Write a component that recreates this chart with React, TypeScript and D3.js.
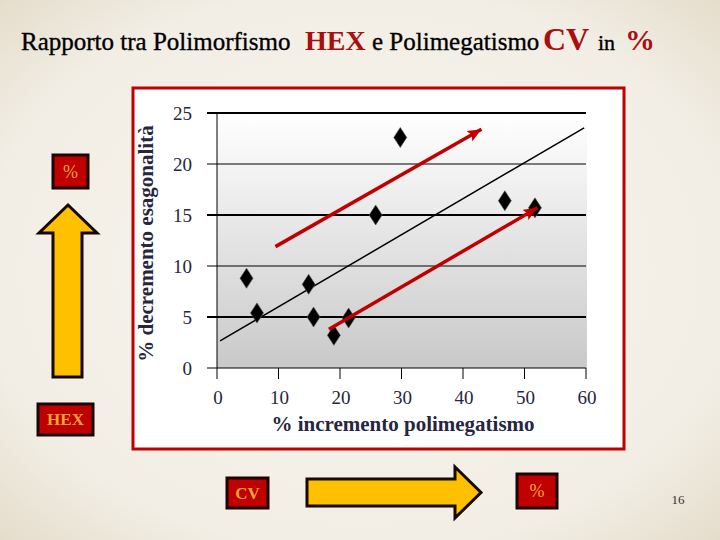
import * as d3 from 'd3';

// % incremento polimegatismo (CV) vs % decremento esagonalità (HEX)
const cvIncrease = [4.8, 6.5, 14.9, 15.7, 19.0, 21.4, 25.8, 29.8, 46.8, 51.7];
const hexDecrease = [8.8, 5.4, 8.2, 5.0, 3.2, 4.9, 15.0, 22.6, 16.4, 15.7];

const xTicks = [0, 10, 20, 30, 40, 50, 60];
const yTicks = [0, 5, 10, 15, 20, 25];

// trend line as drawn in the original (end points)
const trendX = [0.5, 59.7];
const trendY = [2.65, 23.55];

// red annotation arrows [x, y] start -> end
const upperArrow: [number, number][] = [
  [9.5, 11.9],
  [43.0, 23.4],
];
const lowerArrow: [number, number][] = [
  [18.2, 3.8],
  [52.1, 15.7],
];

const serif = '"Liberation Serif", "Times New Roman", serif';
const red = '#c00000';
const titleRed = '#a80f0f';
const boxText = '#f3a72e';
const arrowFill = '#ffc000';
const labelColor = '#26263e';

function Box({ x, y, w, h, label, bold }: { x: number; y: number; w: number; h: number; label: string; bold?: boolean }) {
  return (
    <g>
      <rect x={x} y={y} width={w} height={h} fill={red} stroke="#1a0505" strokeWidth={3} />
      <text
        x={x + w / 2}
        y={y + h / 2}
        dy="0.35em"
        textAnchor="middle"
        fontFamily={serif}
        fontSize={bold ? 17 : 18}
        fontWeight={bold ? 'bold' : 'normal'}
        fill={boxText}
      >
        {label}
      </text>
    </g>
  );
}

export default function App() {
  const width = 720;
  const height = 540;

  const x = d3.scaleLinear().domain([0, 60]).range([217, 586]);
  const y = d3.scaleLinear().domain([0, 25]).range([368, 113]);

  const trendLine = d3
    .line<number>()
    .x((d) => x(d))
    .y((_, i) => y(trendY[i]));

  const arrowLine = d3
    .line<[number, number]>()
    .x((d) => x(d[0]))
    .y((d) => y(d[1]));

  // tall narrow diamond marker
  const diamond = (cx: number, cy: number) => {
    const p = d3.path();
    p.moveTo(cx, cy - 10);
    p.lineTo(cx + 6.5, cy);
    p.lineTo(cx, cy + 10);
    p.lineTo(cx - 6.5, cy);
    p.closePath();
    return p.toString();
  };

  return (
    <svg
      width={width}
      height={height}
      style={{ position: 'absolute', left: 0, top: 0, display: 'block' }}
    >
      <defs>
        <radialGradient id="bg" cx="50%" cy="50%" r="75%">
          <stop offset="0%" stopColor="#f7f5f0" />
          <stop offset="70%" stopColor="#f2eee5" />
          <stop offset="100%" stopColor="#e2d9c6" />
        </radialGradient>
        <linearGradient id="plotBg" x1="0" y1="0" x2="0" y2="1">
          <stop offset="0%" stopColor="#ffffff" />
          <stop offset="100%" stopColor="#c9c9c9" />
        </linearGradient>
        <marker
          id="redHead"
          markerUnits="userSpaceOnUse"
          markerWidth={16}
          markerHeight={12}
          refX={14}
          refY={6}
          orient="auto"
        >
          <path d="M0,0 L14,6 L0,12 L3,6 Z" fill={red} />
        </marker>
      </defs>

      <rect width={width} height={height} fill="url(#bg)" />

      {/* title */}
      <g fontFamily={serif} fill="#000" stroke="#000" strokeWidth={0.35}>
        <text x={21} y={50} fontSize={25}>Rapporto tra Polimorfismo</text>
        <text x={305} y={50} fontSize={28} fontWeight="bold" fill={titleRed} stroke="none">HEX</text>
        <text x={372} y={50} fontSize={25}>e Polimegatismo</text>
        <text x={543} y={50} fontSize={32} fontWeight="bold" fill={titleRed} stroke="none">CV</text>
        <text x={598} y={50} fontSize={22}>in</text>
        <text x={625} y={50} fontSize={30} fontWeight="bold" fill={titleRed} stroke="none">%</text>
      </g>

      {/* chart frame */}
      <rect x={133} y={88} width={491} height={361} fill="#ffffff" stroke={red} strokeWidth={3} />

      {/* plot area */}
      <rect x={x(0)} y={y(25)} width={x(60) - x(0) + 1} height={y(0) - y(25)} fill="url(#plotBg)" />

      {/* horizontal grid lines */}
      {yTicks.map((t) => (
        <line
          key={`gy${t}`}
          x1={x(0) - 10}
          x2={x(60)}
          y1={y(t)}
          y2={y(t)}
          stroke="#000"
          strokeWidth={t % 10 === 5 ? 2.2 : 1}
        />
      ))}

      {/* axes */}
      <line x1={x(0)} x2={x(0)} y1={y(25)} y2={y(0)} stroke="#000" strokeWidth={1} />
      {xTicks.map((t) => (
        <line key={`tx${t}`} x1={x(t)} x2={x(t)} y1={y(0)} y2={y(0) + 11} stroke="#000" strokeWidth={1} />
      ))}

      {/* tick labels */}
      <g fontFamily={serif} fontSize={19} fill={labelColor}>
        {yTicks.map((t) => (
          <text key={`ly${t}`} x={x(0) - 25} y={y(t)} dy="0.35em" textAnchor="end">
            {t}
          </text>
        ))}
        {xTicks.map((t) => (
          <text key={`lx${t}`} x={x(t) + 1} y={404} textAnchor="middle">
            {t}
          </text>
        ))}
      </g>

      {/* axis titles */}
      <text
        transform={`translate(153, ${(y(0) + y(25)) / 2 + 3}) rotate(-90)`}
        textAnchor="middle"
        fontFamily={serif}
        fontWeight="bold"
        fontSize={21}
        fill={labelColor}
      >
        % decremento esagonalità
      </text>
      <text
        x={403}
        y={431}
        textAnchor="middle"
        fontFamily={serif}
        fontWeight="bold"
        fontSize={21}
        fill={labelColor}
      >
        % incremento polimegatismo
      </text>

      {/* trend line */}
      <path d={trendLine(trendX) ?? ''} fill="none" stroke="#000" strokeWidth={1.5} />

      {/* data points */}
      {cvIncrease.map((cv, i) => (
        <path key={`pt${i}`} d={diamond(x(cv), y(hexDecrease[i]))} fill="#000" stroke="#555" strokeWidth={0.6} />
      ))}

      {/* red annotation arrows */}
      {[upperArrow, lowerArrow].map((a, i) => (
        <path
          key={`ar${i}`}
          d={arrowLine(a) ?? ''}
          fill="none"
          stroke={red}
          strokeWidth={3.5}
          markerEnd="url(#redHead)"
        />
      ))}

      {/* left decoration: % ↑ HEX */}
      <Box x={53} y={155} w={35} h={33} label="%" />
      <path
        d="M68,205 L97,233 L82,233 L82,377 L53,377 L53,233 L39,233 Z"
        fill={arrowFill}
        stroke="#140800"
        strokeWidth={3}
        strokeLinejoin="miter"
      />
      <Box x={38} y={404} w={55} h={31} label="HEX" bold />

      {/* bottom decoration: CV → % */}
      <Box x={227} y={478} w={41} h={30} label="CV" bold />
      <path
        d="M307,479 L455,479 L455,467 L481,492.5 L455,518 L455,506 L307,506 Z"
        fill={arrowFill}
        stroke="#140800"
        strokeWidth={3}
      />
      <Box x={517} y={474} w={40} h={34} label="%" />

      {/* slide number */}
      <text x={678} y={504} textAnchor="middle" fontFamily={serif} fontSize={13} fill="#333">
        16
      </text>
    </svg>
  );
}
